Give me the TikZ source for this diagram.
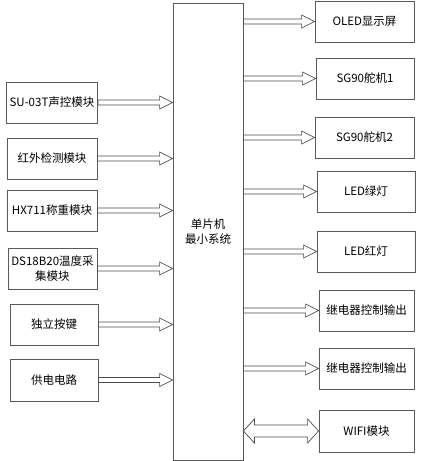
\documentclass[tikz,border=0pt]{standalone}
\usepackage{fontspec}
\setmainfont{Noto Sans CJK SC}
\usetikzlibrary{calc}
\tikzset{
  box/.style={rectangle, draw=black!65, line width=0.8pt, align=center, font=\fontsize{11.5}{15}\selectfont},
  mcu/.style={box, minimum width=70pt, minimum height=457pt},
  connect/.style={draw=black!70, line width=0.7pt, line join=miter, to path={
      let \p1=(\tikztostart), \p2=(\tikztotarget) in
      (\x1,\y1+2.5pt) -- (\x2-13pt,\y1+2.5pt) -- (\x2-13pt,\y1+6.5pt) -- (\x2,\y1)
      -- (\x2-13pt,\y1-6.5pt) -- (\x2-13pt,\y1-2.5pt) -- (\x1,\y1-2.5pt) -- cycle}},
  bconnect/.style={draw=black!70, line width=0.7pt, line join=miter, to path={
      let \p1=(\tikztostart), \p2=(\tikztotarget) in
      (\x1,\y1) -- (\x1+11pt,\y1+12pt) -- (\x1+11pt,\y1+6pt) -- (\x2-11pt,\y1+6pt)
      -- (\x2-11pt,\y1+12pt) -- (\x2,\y1) -- (\x2-11pt,\y1-12pt) -- (\x2-11pt,\y1-6pt)
      -- (\x1+11pt,\y1-6pt) -- (\x1+11pt,\y1-12pt) -- cycle}}
}

\begin{document}
\begin{tikzpicture}[x=1pt, y=1pt]
    \useasboundingbox (0,0) rectangle (429,461);
    \node[mcu] (MCU) at (208,229.5) {单片机\\最小系统};

    % inputs
    \node[box, minimum width=90pt, minimum height=41pt] (Voice) at (52,358.5) {SU-03T声控模块};
    \node[box, minimum width=90pt, minimum height=41pt] (IR) at (52,302.5) {红外检测模块};
    \node[box, minimum width=90pt, minimum height=41pt] (Weigh) at (52,250.5) {HX711称重模块};
    \node[box, minimum width=89pt, minimum height=41pt] (Temp) at (52.5,192.5) {DS18B20温度采\\集模块};
    \node[box, minimum width=88pt, minimum height=41pt] (Key) at (54,136.5) {独立按键};
    \node[box, minimum width=88pt, minimum height=42pt] (Power) at (54,81) {供电电路};

    % outputs
    \node[box, minimum width=99pt, minimum height=41pt] (OLED) at (364.5,439.5) {OLED显示屏};
    \node[box, minimum width=98pt, minimum height=41pt] (Servo1) at (365,382.5) {SG90舵机1};
    \node[box, minimum width=99pt, minimum height=41pt] (Servo2) at (364.5,323.5) {SG90舵机2};
    \node[box, minimum width=98pt, minimum height=41pt] (Green) at (366,269.5) {LED绿灯};
    \node[box, minimum width=98pt, minimum height=41pt] (Red) at (366,209.5) {LED红灯};
    \node[box, minimum width=95pt, minimum height=41pt] (Relay1) at (366.5,150.5) {继电器控制输出};
    \node[box, minimum width=95pt, minimum height=41pt] (Relay2) at (366.5,92.5) {继电器控制输出};
    \node[box, minimum width=95pt, minimum height=42pt] (Wifi) at (366.5,30) {WIFI模块};

    \foreach \m in {Voice,IR,Weigh,Temp,Key,Power}{
      \coordinate (\m-in) at (\m.east -| MCU.west);
      \draw[connect] (\m.east) to (\m-in);
    }
    \foreach \m in {OLED,Servo1,Servo2,Green,Red,Relay1,Relay2,Wifi}
      \coordinate (\m-out) at (MCU.east |- \m.west);
    \foreach \m in {OLED,Servo1,Servo2,Green,Red,Relay1,Relay2}
      \draw[connect] (\m-out) to (\m.west);
    \draw[bconnect] (Wifi-out) to (Wifi.west);
\end{tikzpicture}
\end{document}
